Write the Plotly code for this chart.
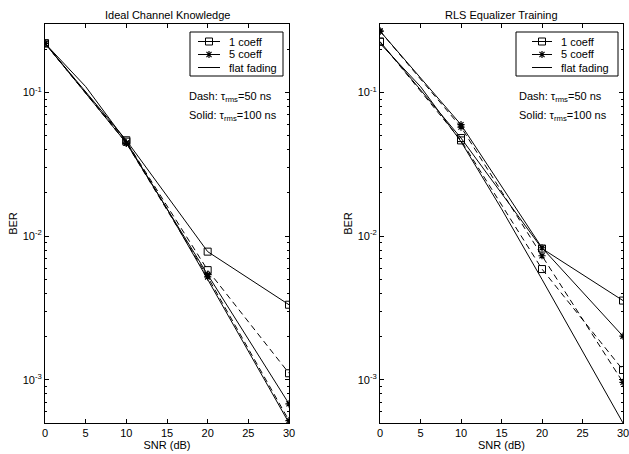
import plotly.graph_objects as go
import math

# ---- data ----
snr = [0, 10, 20, 30]
snr_flat = [0, 5, 10, 15, 20, 25, 30]
flat_fading = [0.22, 0.11, 0.0455, 0.0155, 0.0050, 0.0016, 0.0005]

ideal_1c_100 = [0.22, 0.0465, 0.0078, 0.00333]
ideal_1c_50 = [0.22, 0.0455, 0.0058, 0.00111]
ideal_5c_100 = [0.22, 0.0445, 0.0054, 0.00068]
ideal_5c_50 = [0.22, 0.0445, 0.0052, 0.00052]

rls_1c_100 = [0.226, 0.0482, 0.0082, 0.00356]
rls_1c_50 = [0.226, 0.0464, 0.0059, 0.00117]
rls_5c_100 = [0.268, 0.0597, 0.0083, 0.00201]
rls_5c_50 = [0.268, 0.0575, 0.0073, 0.00096]

x_ticks = [0, 5, 10, 15, 20, 25, 30]
y_tick_vals = [1e-3, 1e-2, 1e-1]
y_tick_text = ["10<sup>-3</sup>", "10<sup>-2</sup>", "10<sup>-1</sup>"]

titles = ["Ideal Channel Knowledge", "RLS Equalizer Training"]
legend_labels = ["1 coeff", "5 coeff", "flat fading"]

FONT = "Liberation Sans, Arial, Helvetica, sans-serif"
BLACK = "black"
DASH = "6px,4px"
SQ = dict(symbol="square-open", size=7, color=BLACK, line=dict(width=1, color=BLACK))
ST = dict(symbol="asterisk-open", size=6, color=BLACK, line=dict(width=1.2, color=BLACK))

W, H = 629, 454
ML, MR, MT, MB = 45, 6, 24, 31
PW = W - ML - MR
PH = H - MT - MB


def px_x(p):
    return (p - ML) / PW


def px_y(p):
    return 1 - (p - MT) / PH


fig = go.Figure()


def add_panel(xa, ya, s1_100, s1_50, s5_100, s5_50):
    common = dict(xaxis=xa, yaxis=ya, mode="lines+markers", showlegend=False)
    fig.add_trace(go.Scatter(x=snr, y=s1_100, name="1 coeff",
                             line=dict(color=BLACK, width=1), marker=SQ, **common))
    fig.add_trace(go.Scatter(x=snr, y=s5_100, name="5 coeff",
                             line=dict(color=BLACK, width=1), marker=ST, **common))
    fig.add_trace(go.Scatter(x=snr_flat, y=flat_fading, name="flat fading",
                             xaxis=xa, yaxis=ya, mode="lines", showlegend=False,
                             line=dict(color=BLACK, width=1)))
    fig.add_trace(go.Scatter(x=snr, y=s1_50, name="1 coeff",
                             line=dict(color=BLACK, width=1, dash=DASH), marker=SQ, **common))
    fig.add_trace(go.Scatter(x=snr, y=s5_50, name="5 coeff",
                             line=dict(color=BLACK, width=1, dash=DASH), marker=ST, **common))


add_panel("x", "y", ideal_1c_100, ideal_1c_50, ideal_5c_100, ideal_5c_50)
add_panel("x2", "y2", rls_1c_100, rls_1c_50, rls_5c_100, rls_5c_50)

dom1 = [0, px_x(289)]
dom2 = [px_x(380), 1]

xaxis_style = dict(range=[0, 30], tickvals=x_ticks, ticks="inside", ticklen=4,
                   tickcolor=BLACK, showline=True, linecolor=BLACK, linewidth=1,
                   mirror="allticks", showgrid=False, zeroline=False,
                   ticklabeloverflow="allow",
                   tickfont=dict(size=11, color=BLACK, family=FONT),
                   title=dict(text="SNR (dB)", font=dict(size=11, color=BLACK, family=FONT), standoff=2))
yaxis_style = dict(type="log", range=[math.log10(5e-4), math.log10(0.3)],
                   tickvals=y_tick_vals, ticktext=y_tick_text, ticks="inside", ticklen=4,
                   tickcolor=BLACK, showline=True, linecolor=BLACK, linewidth=1,
                   mirror="allticks", showgrid=False, zeroline=False,
                   minor=dict(ticks="inside", ticklen=2, tickcolor=BLACK, dtick="D1", showgrid=False),
                   tickfont=dict(size=11, color=BLACK, family=FONT),
                   title=dict(text="BER", font=dict(size=11, color=BLACK, family=FONT), standoff=2))

# ---- hand-drawn legend boxes (MATLAB style, compact) ----
legend_boxes = [  # box left, box right, line start, line end, text start
    dict(x0=190, x1=283, l0=198, l1=220, tx=227),
    dict(x0=516, x1=618, l0=532, l1=552, tx=559),
]
item_y = [41.5, 54.5, 67.5]
box_y0, box_y1 = 32, 76

shapes = []
annos = []
for b in legend_boxes:
    shapes.append(dict(type="rect", xref="paper", yref="paper",
                       x0=px_x(b["x0"]), x1=px_x(b["x1"]), y0=px_y(box_y1), y1=px_y(box_y0),
                       line=dict(color=BLACK, width=1), fillcolor="rgba(0,0,0,0)", layer="above"))
    for yy, lab in zip(item_y, legend_labels):
        shapes.append(dict(type="line", xref="paper", yref="paper",
                           x0=px_x(b["l0"]), x1=px_x(b["l1"]), y0=px_y(yy), y1=px_y(yy),
                           line=dict(color=BLACK, width=1), layer="above"))
        annos.append(dict(text=lab, x=px_x(b["tx"]), y=px_y(yy), xref="paper", yref="paper",
                          showarrow=False, xanchor="left", yanchor="middle",
                          font=dict(size=11, color=BLACK, family=FONT)))
    mx = (b["l0"] + b["l1"]) / 2
    fig.add_trace(go.Scatter(x=[mx], y=[item_y[0]], xaxis="x3", yaxis="y3", mode="markers",
                             marker=SQ, showlegend=False, hoverinfo="skip", cliponaxis=False))
    fig.add_trace(go.Scatter(x=[mx], y=[item_y[1]], xaxis="x3", yaxis="y3", mode="markers",
                             marker=ST, showlegend=False, hoverinfo="skip", cliponaxis=False))

for t, cx in zip(titles, [(45 + 289) / 2, (380 + 623) / 2]):
    annos.append(dict(text=t, x=px_x(cx), y=px_y(15), xref="paper", yref="paper",
                      showarrow=False, xanchor="center", yanchor="middle",
                      font=dict(size=11, color=BLACK, family=FONT)))
for lx in [187, 517]:
    annos.append(dict(text="Dash: \u03c4<sub>rms</sub>=50 ns", x=px_x(lx), y=px_y(97),
                      xref="paper", yref="paper", showarrow=False, xanchor="left",
                      yanchor="middle", font=dict(size=11, color=BLACK, family=FONT)))
    annos.append(dict(text="Solid: \u03c4<sub>rms</sub>=100 ns", x=px_x(lx), y=px_y(116),
                      xref="paper", yref="paper", showarrow=False, xanchor="left",
                      yanchor="middle", font=dict(size=11, color=BLACK, family=FONT)))

fig.update_layout(
    width=W, height=H,
    margin=dict(l=ML, r=MR, t=MT, b=MB, autoexpand=False),
    paper_bgcolor="white", plot_bgcolor="rgba(0,0,0,0)",
    font=dict(family=FONT, color=BLACK, size=11),
    showlegend=False,
    hovermode=False,
    xaxis=dict(domain=dom1, anchor="y", **xaxis_style),
    yaxis=dict(domain=[0, 1], anchor="x", **yaxis_style),
    xaxis2=dict(domain=dom2, anchor="y2", **xaxis_style),
    yaxis2=dict(domain=[0, 1], anchor="x2", **yaxis_style),
    xaxis3=dict(domain=[0, 1], anchor="y3", range=[ML, W - MR], visible=False, fixedrange=True),
    yaxis3=dict(domain=[0, 1], anchor="x3", range=[H - MB, MT], visible=False, fixedrange=True),
    shapes=shapes,
    annotations=annos,
)

fig.write_html("out.html", config={"displayModeBar": False},
               post_script="document.body.style.margin='0px';")
